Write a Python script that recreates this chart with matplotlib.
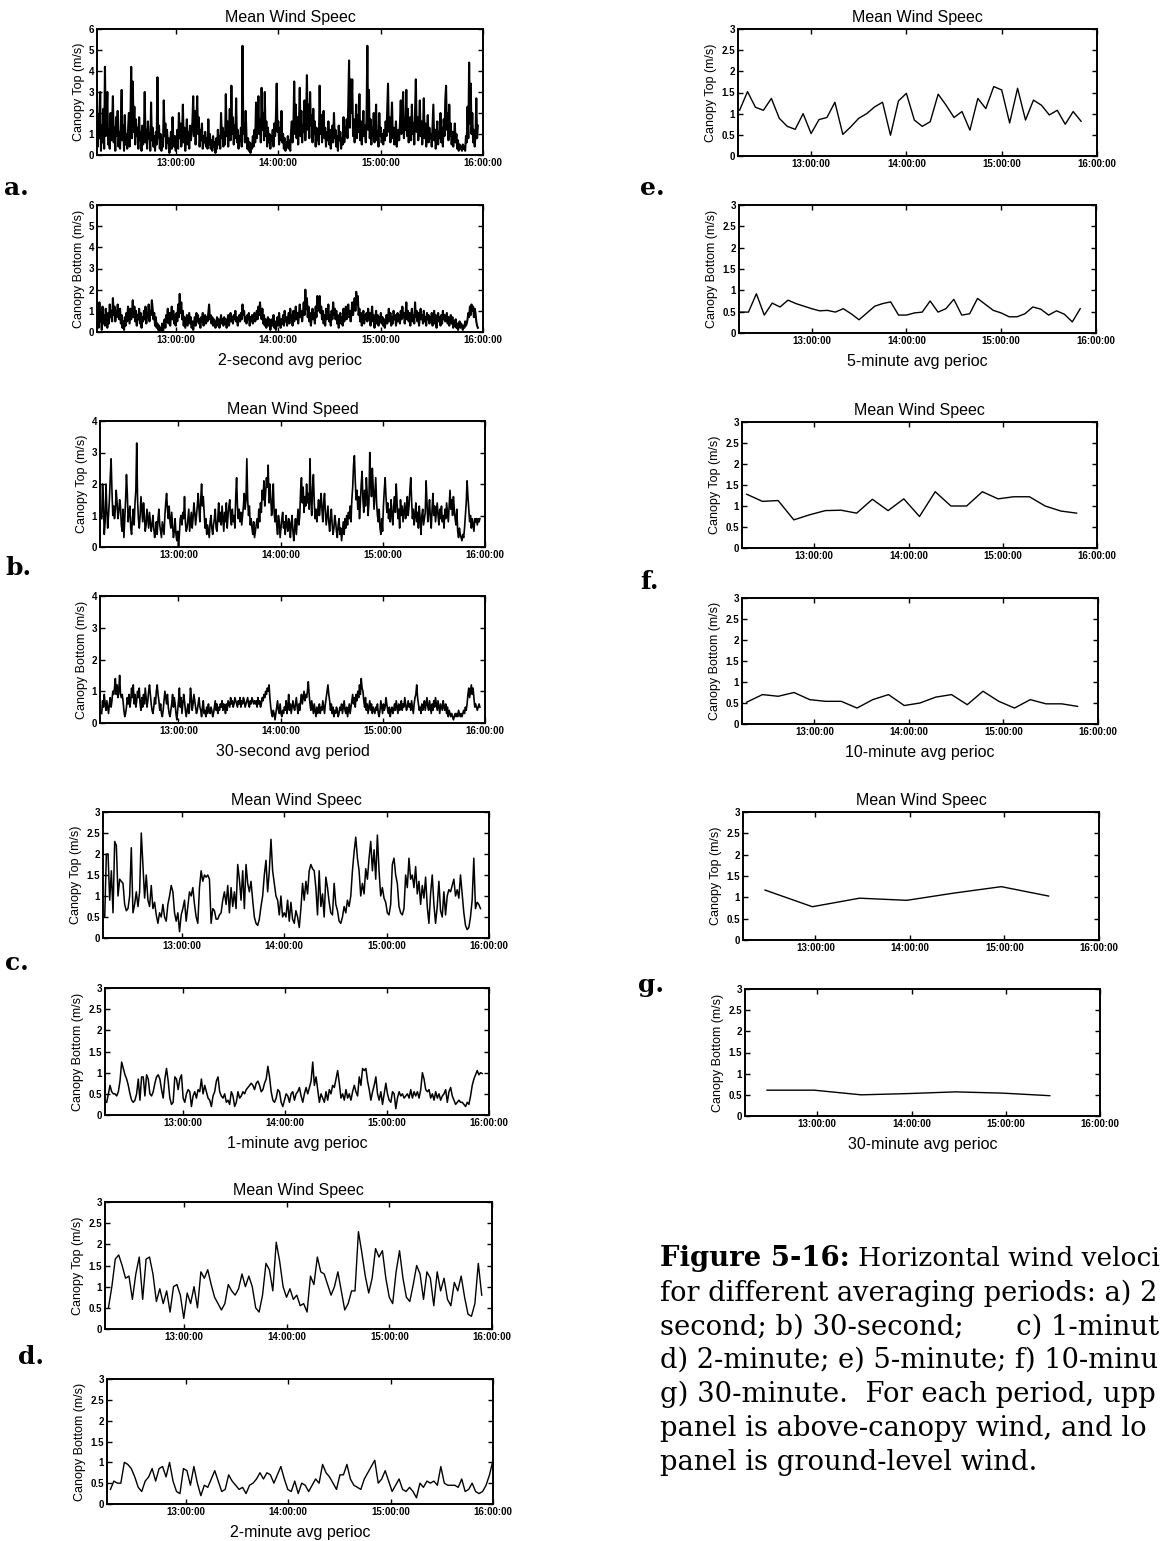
import numpy as np
import matplotlib
matplotlib.use('Agg')
import matplotlib.pyplot as plt

plt.rcParams['font.family'] = 'Liberation Sans'

W, H = 1162, 1541
DAY = '2000-06-15'


def clock(hhmm):
    return np.datetime64(f'{DAY}T{hhmm}')


def stamps(start, end, n):
    # evenly spaced sample times between two clock times
    t0 = clock(start)
    secs = (clock(end) - t0) / np.timedelta64(1, 's')
    return t0 + (np.linspace(0, secs, n) * 1000).astype('timedelta64[ms]')


def tenths(block):
    return np.array(block.split(), float) / 10


# ---- 2-second averages (thinned), tenths of m/s ----
TOP_2S = """
31 4 19 8 30 2 14 6 22 3 42 9 17 30 5 12 3 20 7 15
28 6 13 2 18 9 21 4 11 3 16 31 7 14 2 19 5 10 3 12
20 4 15 42 8 35 11 23 5 17 9 13 3 18 7 11 2 14 5 9
30 6 12 3 16 8 10 2 25 7 13 4 9 2 11 5 37 8 14 3
10 2 8 4 26 9 15 3 12 6 8 1 5 11 3 18 7 4 9 2
6 12 3 20 8 15 4 10 24 6 13 2 9 17 5 11 3 14 7 10
16 28 9 21 5 14 28 10 18 4 12 7 15 3 9 6 11 4 8 3
17 5 10 3 7 2 9 4 6 1 8 3 12 5 9 3 20 8 13 4
11 5 29 9 16 4 12 22 7 33 10 18 5 14 8 27 6 12 3 9
7 13 4 52 10 15 6 21 9 3 8 2 6 1 5 3 9 4 12 6
25 8 14 28 10 17 6 32 12 20 7 30 9 16 4 13 6 10 3 9
7 12 4 15 9 18 34 11 16 5 13 7 21 6 10 3 8 2 6 4
9 3 7 2 11 16 6 13 35 10 24 8 18 5 15 32 9 21 6 14
11 26 7 18 38 12 24 8 30 14 19 6 22 10 16 4 13 7 11 5
33 10 19 6 15 21 8 13 4 11 7 16 5 12 3 9 14 6 20 8
12 4 9 2 14 7 11 3 8 5 18 6 13 9 17 8 24 45 13 36
20 36 9 17 6 14 24 8 19 11 29 7 16 5 12 21 9 14 6 18
52 12 31 8 17 5 13 9 20 6 14 24 7 11 4 20 9 13 6 10
5 12 7 16 9 22 34 11 18 6 14 25 8 13 5 10 16 4 9 12
7 15 26 10 19 30 8 17 12 31 9 22 6 14 18 7 24 10 15 5
20 36 11 18 7 14 26 9 16 5 12 27 8 15 4 11 19 6 13 8
10 4 14 24 7 12 3 9 16 5 11 8 20 6 13 4 17 9 26 33
12 20 7 24 9 15 5 11 4 8 15 6 10 3 7 2 5 3 4 2
5 3 4 2 9 6 23 8 44 15 34 10 20 6 12 4 9 27 8 14
"""
BOT_2S = """
3 10 2 14 5 9 1 12 4 8 3 11 6 2 9 4 13 7 10 5
16 8 12 5 10 7 13 9 6 11 4 8 2 5 1 7 3 9 5 12
8 4 11 6 9 15 7 12 5 10 3 8 6 11 4 9 2 7 5 10
6 12 4 9 7 13 5 10 8 15 11 6 9 3 7 2 4 1 3 0
2 1 4 0 3 6 2 8 5 11 4 9 3 7 12 6 10 4 8 3
9 5 13 7 18 9 14 6 10 3 7 2 5 8 3 6 9 4 7 2
5 1 4 7 3 9 5 8 4 6 2 7 5 9 3 6 8 4 7 5
9 13 6 8 4 7 3 6 5 2 4 7 3 6 2 5 8 4 6 3
7 4 6 2 5 8 3 6 9 5 7 4 8 6 10 5 7 3 6 8
5 9 6 13 8 10 5 7 4 8 6 9 3 7 5 8 4 6 9 5
7 10 6 12 8 14 9 6 11 4 8 3 6 2 5 7 3 6 1 4
6 3 8 2 5 1 4 7 3 9 5 2 6 4 8 3 10 5 7 3
6 9 4 11 6 8 3 10 5 7 12 6 9 4 8 13 7 10 5 9
14 8 20 11 16 7 12 5 9 3 7 11 6 9 4 12 7 17 10 13
17 9 12 6 10 4 8 3 11 6 9 13 5 8 3 10 6 14 8 11
6 10 4 8 2 6 9 4 7 3 11 5 8 12 6 9 13 7 10 5
9 14 8 12 16 10 19 13 17 8 11 5 9 3 7 10 4 8 6 9
5 11 6 9 3 7 12 5 8 2 6 10 4 8 3 7 5 9 4 7
3 6 2 5 8 4 7 11 5 9 3 7 4 10 6 8 3 6 9 5
8 4 10 6 12 7 9 4 8 14 6 10 5 9 3 7 11 5 8 4
14 7 10 5 9 3 7 11 6 8 4 10 5 7 3 9 6 8 4 7
5 9 3 7 10 4 8 2 6 9 5 7 3 8 4 10 6 8 5 7
9 4 7 3 6 8 4 7 2 5 3 6 2 4 1 3 5 2 4 3
1 3 2 5 3 4 6 9 7 12 8 13 10 12 7 11 9 5 3 2
"""

# ---- 30-second averages, tenths of m/s ----
TOP_30S = """
9 20 14 4 8 20 12 6 10 15 22 28 18 10 13 9 12 18 14 9
11 15 13 7 5 12 3 9 15 23 17 8 11 13 6 4 9 12 7 14
18 33 15 9 6 10 16 12 8 14 10 5 7 12 9 6 11 8 5 7
10 6 3 5 8 4 9 12 7 5 3 8 6 4 10 14 17 12 9 13
8 6 11 7 3 5 9 4 2 5 0 4 9 10 7 11 9 16 8 5
6 9 12 5 8 11 6 9 14 11 7 10 13 17 12 8 15 20 13 16
11 6 9 4 7 5 3 8 10 6 4 7 9 12 6 5 9 14 8 11
7 13 9 5 11 8 14 6 10 13 15 9 7 12 8 10 6 16 22 13
9 12 8 11 7 10 13 17 12 15 28 15 10 13 7 9 6 4 8 3
5 7 9 6 12 8 14 11 18 15 21 13 17 22 19 26 14 20 16 10
13 20 11 8 12 7 4 10 8 3 6 9 11 6 8 4 10 7 5 9
8 3 7 10 5 2 6 9 4 8 12 7 10 18 22 14 19 11 16 13
20 14 17 12 28 15 10 19 23 14 9 12 8 11 15 10 13 17 12 8
14 17 11 7 10 13 8 5 9 12 7 4 6 10 8 5 3 7 9 4
6 2 5 8 4 9 6 10 7 11 9 13 8 15 19 26 29 21 15 18
12 16 9 14 20 24 15 11 18 13 22 17 10 14 30 21 16 25 19 12
17 22 14 10 8 12 6 4 9 5 13 18 22 16 11 14 9 12 8 15
10 7 13 16 11 20 14 9 12 6 15 10 13 8 11 14 9 12 16 10
13 18 22 15 9 12 7 10 14 8 11 6 13 9 4 10 12 7 9 11
21 14 8 11 15 9 6 12 17 10 13 8 11 14 10 7 12 9 13 8
10 6 12 9 14 11 8 13 18 12 15 10 16 12 9 7 12 5 3 6
4 3 2 4 3 6 10 14 21 16 12 8 10 6 9 7 5 9 8 9 7 9 8 9
"""
BOT_30S = """
3 7 5 9 6 4 7 5 3 6 8 5 7 10 9 11 14 9 12 8
10 15 9 8 9 7 4 2 3 5 8 6 9 5 7 11 8 12 6 9
5 7 10 8 11 6 4 8 5 9 6 11 8 5 7 10 12 9 6 4
3 5 8 6 10 12 9 7 4 6 3 2 4 7 10 8 6 9 5 3
2 4 6 9 5 8 6 3 1 4 7 11 5 8 3 6 9 7 4 2
4 6 3 5 11 8 4 6 9 7 5 3 4 6 8 5 4 2 5 7
3 4 2 5 3 6 4 3 5 4 2 3 5 7 4 6 3 5 4 6
5 7 4 6 5 3 6 4 7 6 5 8 6 7 5 6 8 7 6 5
7 6 8 5 7 6 8 7 5 6 7 8 6 5 7 6 8 7 6 7
6 7 5 8 6 7 5 6 8 7 9 8 10 9 11 10 12 8 5 3
2 4 3 1 3 5 7 4 3 6 3 2 4 3 5 4 7 3 5 9
4 6 3 5 7 5 4 6 8 5 3 6 4 7 9 6 8 10 7 9
8 10 13 9 6 4 7 5 3 6 4 2 5 3 4 6 3 5 4 7
5 3 6 8 10 12 9 7 4 6 3 5 2 4 3 5 4 2 3 5
4 6 3 5 7 4 3 5 2 4 6 3 5 7 9 6 8 5 9 7
10 8 12 9 14 11 10 7 5 8 4 6 3 5 7 4 6 3 5 4
3 5 4 6 3 2 4 7 5 3 6 4 5 8 6 4 3 5 2 4
5 3 4 6 4 7 5 3 6 4 5 7 4 6 5 8 6 4 5 7
5 6 4 7 5 3 6 8 9 12 8 6 4 5 3 6 4 5 7 4
6 8 5 4 7 5 3 6 4 7 5 8 6 4 7 5 3 6 5 4
7 5 4 6 3 5 2 4 3 2 3 2 1 2 3 2 3 2 4 3
2 3 2 3 4 3 5 4 6 9 11 8 10 12 9 11 8 5 6 5 4 5 6 5
"""

# ---- 1-minute averages, m/s ----
TOP_1MIN = [
    0.5, 2.0, 2.0, 0.9, 1.6, 0.6, 2.3, 2.2, 1.0, 1.4, 1.35, 1.3, 0.8, 0.65, 0.7,
    1.0, 2.15, 0.6, 0.8, 1.1, 0.75, 1.1, 2.5, 1.7, 0.95, 1.5, 0.9, 0.75, 1.25, 0.7,
    0.85, 0.55, 0.35, 0.6, 0.5, 0.8, 0.5, 0.4, 0.8, 1.0, 1.25, 1.1, 0.6, 0.4, 0.6,
    0.15, 0.55, 0.7, 0.9, 0.4, 0.75, 1.1, 1.0, 1.2, 0.8, 0.5, 0.35, 1.2, 1.6, 1.35,
    1.5, 1.45, 1.5, 1.4, 0.35, 0.7, 0.65, 0.45, 0.45, 0.55, 0.6, 0.9, 1.1, 0.8, 1.25,
    0.6, 1.2, 0.75, 1.1, 0.7, 1.75, 1.4, 0.9, 1.6, 0.7, 1.75, 1.3, 1.1, 1.35, 0.9,
    0.5, 0.35, 0.3, 0.45, 0.75, 1.0, 1.5, 1.85, 1.1, 1.6, 2.35, 1.6, 1.3, 1.0, 0.9,
    0.55, 1.0, 0.5, 0.6, 0.5, 0.9, 0.4, 0.85, 0.45, 0.35, 0.65, 0.5, 0.25, 0.7, 1.3,
    0.9, 1.35, 1.05, 1.6, 1.75, 1.65, 1.6, 1.2, 0.55, 1.6, 0.75, 1.05, 0.5, 1.45, 1.2,
    0.85, 0.6, 0.55, 1.3, 0.8, 0.65, 0.4, 0.35, 0.5, 0.75, 0.6, 0.9, 0.75, 1.0, 1.6,
    2.05, 2.4, 1.9, 1.6, 1.0, 1.3, 1.05, 1.65, 1.4, 1.9, 2.3, 1.6, 2.1, 1.4, 2.45,
    1.6, 1.0, 1.2, 0.95, 0.85, 0.6, 0.55, 0.8, 1.75, 1.9, 1.5, 1.3, 0.75, 0.6, 0.55,
    0.7, 1.5, 1.2, 1.9, 1.4, 1.5, 1.2, 1.7, 1.05, 1.35, 0.8, 1.25, 0.95, 1.45, 0.75,
    0.35, 1.05, 1.5, 0.8, 0.35, 0.75, 1.35, 0.65, 0.5, 1.1, 0.55, 1.0, 1.15, 1.1, 1.25,
    1.4, 1.0, 1.15, 0.95, 1.5, 1.05, 0.6, 0.3, 0.2, 0.25, 0.5, 0.9, 1.9, 0.7, 0.85,
    0.8, 0.7,
]
BOT_1MIN = [
    0.3, 0.5, 0.7, 0.55, 0.5, 0.5, 0.45, 0.55, 0.8, 1.25, 1.1, 0.95, 0.85, 0.7, 0.5,
    0.35, 0.3, 0.35, 0.5, 0.85, 0.35, 0.9, 0.9, 0.45, 0.95, 0.85, 0.5, 0.45, 0.55, 0.75,
    0.9, 0.95, 0.85, 0.6, 0.4, 0.85, 1.1, 0.8, 0.4, 0.25, 0.3, 0.9, 0.85, 0.6, 0.85,
    0.95, 0.4, 0.3, 0.5, 0.6, 0.55, 0.2, 0.45, 0.55, 0.4, 0.6, 0.55, 0.85, 0.5, 0.7,
    0.55, 0.4, 0.35, 0.2, 0.45, 0.55, 0.8, 0.9, 0.55, 0.45, 0.4, 0.5, 0.3, 0.35, 0.25,
    0.55, 0.45, 0.2, 0.3, 0.55, 0.4, 0.45, 0.55, 0.5, 0.6, 0.65, 0.7, 0.75, 0.7, 0.6,
    0.75, 0.8, 0.7, 0.55, 0.6, 0.75, 0.85, 1.15, 0.9, 0.55, 0.35, 0.3, 0.4, 0.6, 0.55,
    0.3, 0.2, 0.35, 0.5, 0.45, 0.3, 0.5, 0.55, 0.35, 0.5, 0.55, 0.65, 0.45, 0.3, 0.5,
    0.65, 0.5, 0.65, 0.8, 1.25, 0.7, 0.9, 0.6, 0.3, 0.5, 0.4, 0.3, 0.55, 0.35, 0.6,
    0.5, 0.7, 0.65, 0.85, 1.05, 0.75, 0.4, 0.5, 0.35, 0.6, 0.4, 0.5, 0.35, 0.55, 0.7,
    0.55, 0.45, 0.9, 0.7, 1.1, 1.05, 1.1, 0.8, 0.6, 0.35, 0.55, 0.7, 0.9, 0.5, 0.35,
    0.55, 0.25, 0.5, 0.75, 0.5, 0.35, 0.3, 0.55, 0.5, 0.15, 0.4, 0.55, 0.45, 0.5, 0.4,
    0.45, 0.5, 0.4, 0.6, 0.4, 0.55, 0.45, 0.55, 0.4, 0.6, 1.0, 0.85, 0.6, 0.55, 0.6,
    0.4, 0.5, 0.35, 0.55, 0.4, 0.5, 0.35, 0.45, 0.5, 0.6, 0.3, 0.55, 0.65, 0.45, 0.35,
    0.25, 0.3, 0.35, 0.3, 0.3, 0.25, 0.2, 0.3, 0.25, 0.45, 0.7, 0.85, 0.95, 1.05, 0.95,
    1.0, 0.98,
]

# ---- 2-minute averages, m/s ----
TOP_2MIN = [
    0.5, 1.0, 1.65, 1.75, 1.5, 1.2, 1.25, 0.7, 1.3, 1.7, 0.7, 1.65, 1.7, 1.3, 0.65,
    0.95, 0.6, 0.9, 0.4, 1.0, 1.05, 0.8, 0.25, 0.85, 0.6, 1.0, 0.5, 1.35, 1.2, 1.4,
    1.05, 0.75, 0.6, 0.45, 0.6, 1.05, 0.9, 0.8, 0.95, 1.3, 1.0, 1.25, 1.0, 0.5, 0.4,
    0.8, 1.55, 1.4, 0.9, 2.05, 1.6, 1.0, 0.75, 0.95, 0.7, 0.8, 0.55, 0.6, 0.4, 1.25,
    1.05, 1.7, 1.35, 1.3, 1.05, 0.8, 1.0, 1.35, 0.9, 0.45, 0.6, 0.9, 0.9, 2.3, 1.8,
    1.25, 0.85, 1.2, 1.9, 1.7, 1.85, 1.2, 0.75, 0.6, 1.35, 1.85, 1.2, 0.75, 0.65, 1.05,
    1.5, 1.3, 0.7, 1.35, 1.2, 0.55, 1.35, 0.9, 1.2, 0.7, 0.55, 1.1, 0.9, 1.25, 0.75,
    0.35, 0.3, 0.6, 1.55, 0.8,
]
BOT_2MIN = [
    0.35, 0.55, 0.5, 0.5, 1.0, 0.95, 0.85, 0.65, 0.4, 0.3, 0.55, 0.65, 0.85, 0.55, 0.85,
    0.9, 0.65, 1.0, 0.55, 0.3, 0.25, 0.85, 0.8, 0.45, 0.9, 0.5, 0.2, 0.45, 0.4, 0.6,
    0.8, 0.55, 0.3, 0.35, 0.7, 0.55, 0.45, 0.35, 0.4, 0.25, 0.45, 0.5, 0.6, 0.75, 0.6,
    0.75, 0.7, 0.5, 0.7, 0.9, 0.6, 0.35, 0.3, 0.55, 0.25, 0.5, 0.45, 0.3, 0.45, 0.6,
    0.5, 0.95, 0.75, 0.65, 0.5, 0.35, 0.7, 0.7, 0.95, 0.6, 0.45, 0.4, 0.35, 0.6, 0.75,
    0.9, 1.05, 0.5, 0.6, 0.8, 0.55, 0.3, 0.45, 0.6, 0.35, 0.3, 0.4, 0.3, 0.15, 0.5,
    0.4, 0.55, 0.5, 0.55, 0.45, 0.9, 0.5, 0.45, 0.45, 0.45, 0.4, 0.6, 0.3, 0.35, 0.5,
    0.3, 0.25, 0.3, 0.45, 0.7, 1.05,
]

# ---- 5-minute averages, m/s ----
TOP_5MIN = [
    1.08, 1.52, 1.15, 1.08, 1.36, 0.89, 0.70, 0.63, 1.0, 0.53, 0.86, 0.91, 1.27, 0.51,
    0.69, 0.89, 1.0, 1.16, 1.27, 0.49, 1.3, 1.48, 0.85, 0.70, 0.81, 1.46, 1.2, 0.91,
    1.05, 0.61, 1.36, 1.12, 1.64, 1.56, 0.78, 1.6, 0.85, 1.32, 1.2, 0.97, 1.08, 0.75,
    1.05, 0.82,
]
BOT_5MIN = [
    0.49, 0.49, 0.92, 0.42, 0.70, 0.61, 0.77, 0.69, 0.63, 0.57, 0.52, 0.53, 0.49, 0.57,
    0.45, 0.31, 0.47, 0.63, 0.69, 0.73, 0.42, 0.42, 0.47, 0.49, 0.75, 0.49, 0.57, 0.79,
    0.42, 0.45, 0.81, 0.67, 0.53, 0.47, 0.38, 0.38, 0.45, 0.61, 0.56, 0.42, 0.52, 0.44,
    0.26, 0.57,
]

# ---- 10-minute averages, m/s ----
TOP_10MIN = [1.28, 1.11, 1.13, 0.67, 0.79, 0.89, 0.9, 0.83, 1.16, 0.89, 1.17,
             0.75, 1.34, 1.0, 1.0, 1.34, 1.17, 1.22, 1.22, 1.0, 0.88, 0.83]
BOT_10MIN = [0.52, 0.70, 0.66, 0.75, 0.58, 0.54, 0.54, 0.38, 0.58, 0.70, 0.44,
             0.5, 0.64, 0.70, 0.46, 0.78, 0.54, 0.38, 0.58, 0.48, 0.48, 0.42]

# ---- 30-minute averages, m/s ----
TOP_30MIN = [1.17, 0.78, 0.98, 0.93, 1.1, 1.25, 1.03]
BOT_30MIN = [0.61, 0.61, 0.5, 0.53, 0.57, 0.54, 0.48]

XMIN, XMAX = clock('12:14'), clock('16:00')
HOUR_TICKS = [clock('13:00'), clock('14:00'), clock('15:00'), clock('16:00')]
HOUR_LABELS = ['13:00:00', '14:00:00', '15:00:00', '16:00:00']

fig = plt.figure(figsize=(W / 100, H / 100), dpi=100)


def panel(box, t, v, ymax, ystep, ylabel, title=None, xlabel=None, lw=1.0):
    left, top, right, bottom = box
    ax = fig.add_axes([left / W, 1 - bottom / H, (right - left) / W, (bottom - top) / H])
    ax.plot(t, v, color='black', lw=lw)
    ax.set_xlim(XMIN, XMAX)
    ax.set_ylim(0, ymax)
    ax.set_xticks(HOUR_TICKS, HOUR_LABELS, fontweight='bold', fontsize=7)
    yt = np.arange(0, ymax + 1e-9, ystep)
    ax.set_yticks(yt, [f'{y:g}' for y in yt], fontweight='bold', fontsize=7)
    ax.tick_params(direction='in', length=3.5, width=1, top=True, right=True, pad=2)
    for s in ax.spines.values():
        s.set_linewidth(1.4)
    ax.set_ylabel(ylabel, fontsize=9, labelpad=3)
    if title:
        ax.set_title(title, fontsize=11.5, pad=5)
    if xlabel:
        ax.set_xlabel(xlabel, fontsize=11.5, labelpad=6)
    return ax


TOPLAB = 'Canopy Top (m/s)'
BOTLAB = 'Canopy Bottom (m/s)'
TITLE = 'Mean Wind Speec'

# left column: a-d
panel((97, 29, 483, 155), stamps('12:14', '15:57', 480), tenths(TOP_2S), 6, 1, TOPLAB, TITLE,
      lw=1.5)
panel((97, 205, 483, 332), stamps('12:14', '15:57', 480), tenths(BOT_2S), 6, 1, BOTLAB,
      xlabel='2-second avg perioc', lw=1.5)
panel((100, 421, 485, 547), stamps('12:15', '15:57', 444), tenths(TOP_30S), 4, 1, TOPLAB,
      'Mean Wind Speed', lw=1.2)
panel((100, 596, 485, 723), stamps('12:15', '15:57', 444), tenths(BOT_30S), 4, 1, BOTLAB,
      xlabel='30-second avg period', lw=1.2)
panel((103, 812, 489, 938), stamps('12:15', '15:55', len(TOP_1MIN)), TOP_1MIN, 3, 0.5,
      TOPLAB, TITLE, lw=1.1)
panel((105, 988, 489, 1115), stamps('12:15', '15:56', len(BOT_1MIN)), BOT_1MIN, 3, 0.5,
      BOTLAB, xlabel='1-minute avg perioc', lw=1.1)
panel((105, 1202, 492, 1329), stamps('12:16', '15:54', len(TOP_2MIN)), TOP_2MIN, 3, 0.5,
      TOPLAB, TITLE)
panel((107, 1379, 493, 1504), stamps('12:16', '16:00', len(BOT_2MIN)), BOT_2MIN, 3, 0.5,
      BOTLAB, xlabel='2-minute avg perioc')

# right column: e-g
panel((738, 29, 1097, 156), stamps('12:15', '15:50', len(TOP_5MIN)), TOP_5MIN, 3, 0.5,
      TOPLAB, TITLE)
panel((739, 205, 1096, 333), stamps('12:15', '15:50', len(BOT_5MIN)), BOT_5MIN, 3, 0.5,
      BOTLAB, xlabel='5-minute avg perioc')
panel((742, 422, 1097, 548), stamps('12:17', '15:47', len(TOP_10MIN)), TOP_10MIN, 3, 0.5,
      TOPLAB, TITLE)
panel((742, 598, 1098, 724), stamps('12:17', '15:47', len(BOT_10MIN)), BOT_10MIN, 3, 0.5,
      BOTLAB, xlabel='10-minute avg perioc')
panel((743, 812, 1099, 940), stamps('12:28', '15:28', len(TOP_30MIN)), TOP_30MIN, 3, 0.5,
      TOPLAB, TITLE)
panel((745, 989, 1100, 1116), stamps('12:28', '15:28', len(BOT_30MIN)), BOT_30MIN, 3, 0.5,
      BOTLAB, xlabel='30-minute avg perioc')

# panel letters
for letter, x, y in [('a.', 4, 188), ('b.', 5, 568), ('c.', 5, 963), ('d.', 18, 1357),
                     ('e.', 640, 188), ('f.', 640, 582), ('g.', 638, 985)]:
    fig.text(x / W, 1 - y / H, letter, fontfamily='DejaVu Serif', fontweight='bold',
             fontsize=18, ha='left', va='center')

# caption, as far as it shows at the right margin of the page
renderer = fig.canvas.get_renderer()
serif = dict(fontfamily='DejaVu Serif', va='center', ha='left')
CAP_SIZE = 19.8
cap_x = 660


def fit(txt):
    # shrink a caption line a little if it would run past the right edge
    size = CAP_SIZE
    while txt.get_window_extent(renderer=renderer).x1 > W - 2 and size > 14:
        size -= 0.2
        txt.set_fontsize(size)


head = fig.text(cap_x / W, 1 - 1258 / H, 'Figure 5-16:', fontweight='bold',
                fontsize=CAP_SIZE, **serif)
bb = head.get_window_extent(renderer=renderer)
fit(fig.text((bb.x1 + 8) / W, 1 - 1258 / H, 'Horizontal wind veloci', fontsize=CAP_SIZE,
             **serif))
caption = [
    'for different averaging periods: a) 2',
    'second; b) 30-second;      c) 1-minut',
    'd) 2-minute; e) 5-minute; f) 10-minu',
    'g) 30-minute.  For each period, upp',
    'panel is above-canopy wind, and lo',
    'panel is ground-level wind.',
]
for i, line in enumerate(caption):
    fit(fig.text(cap_x / W, 1 - (1293 + 33.8 * i) / H, line, fontsize=CAP_SIZE, **serif))

fig.savefig('out.png', dpi=100)
